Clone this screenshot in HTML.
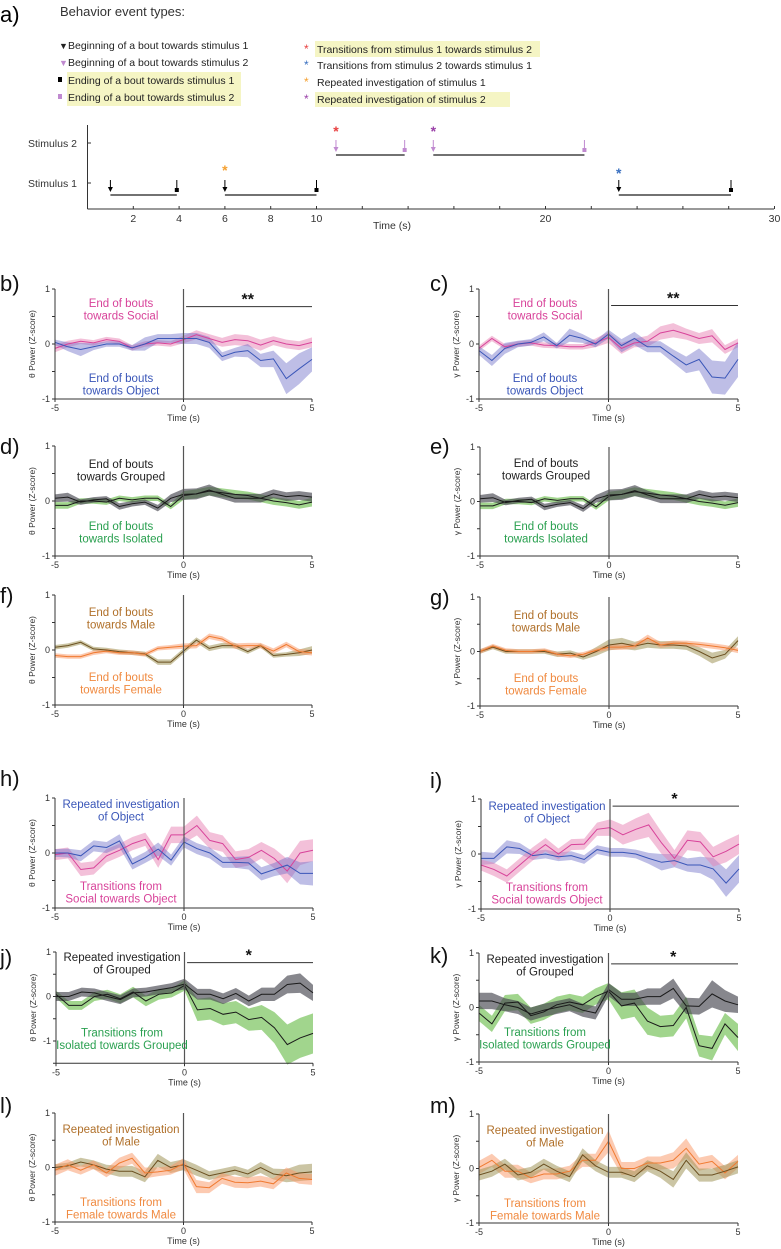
<!DOCTYPE html>
<html><head><meta charset="utf-8">
<style>
html,body{margin:0;padding:0;background:#fff;}
svg{display:block;font-family:"Liberation Sans",sans-serif;}
</style></head>
<body>
<svg id="fig" width="781" height="1249" viewBox="0 0 781 1249" xmlns="http://www.w3.org/2000/svg">
<g id="panelA">
<text x="0" y="22" font-size="22">a)</text>
<text x="60" y="16" font-size="13" fill="#333">Behavior event types:</text>
<rect x="67" y="72" width="174" height="18" fill="#f5f5c4"/>
<rect x="67" y="90" width="174" height="16" fill="#f5f5c4"/>
<rect x="315" y="41" width="225" height="16" fill="#f5f5c4"/>
<rect x="315" y="92" width="195" height="15" fill="#f5f5c4"/>
<g font-size="10.5" fill="#222">
<text x="59" y="49" font-size="9">▼</text>
<text x="68" y="49">Beginning of a bout towards stimulus 1</text>
<text x="59" y="66" font-size="9" fill="#c08ad0">▼</text>
<text x="68" y="66">Beginning of a bout towards stimulus 2</text>
<rect x="58" y="77" width="4" height="5" fill="#000"/>
<text x="68" y="84">Ending of a bout towards stimulus 1</text>
<rect x="58" y="94" width="4" height="5" fill="#c08ad0"/>
<text x="68" y="101">Ending of a bout towards stimulus 2</text>
<text x="304" y="53" fill="#e84040" font-size="12">*</text>
<text x="317" y="53">Transitions from stimulus 1 towards stimulus 2</text>
<text x="304" y="69" fill="#3a70c0" font-size="12">*</text>
<text x="317" y="69">Transitions from stimulus 2 towards stimulus 1</text>
<text x="304" y="86" fill="#f5a030" font-size="12">*</text>
<text x="317" y="86">Repeated investigation of stimulus 1</text>
<text x="304" y="103" fill="#9a40a8" font-size="12">*</text>
<text x="317" y="103">Repeated investigation of stimulus 2</text>
</g>
</g>
<g id="timeline"></g>
<g id="panels"></g>
</svg>
<script>
// ---------- timeline data ----------
const tlTicks = [2,4,6,8,10,20,30];
const stim1Bouts = [[1.0,3.9],[6.0,10.0],[23.2,28.1]];
const stim2Bouts = [[10.85,13.85],[15.1,21.7]];
const starTimes = [10.85,15.1,6.0,23.2];
const starStim = [2,2,1,1];
const starColors = ['#e84040','#9a40a8','#f5a030','#3a70c0'];

// ---------- panel series data (t = -5..5 step 0.5) ----------
const timePoints = [-5,-4.5,-4,-3.5,-3,-2.5,-2,-1.5,-1,-0.5,0,0.5,1,1.5,2,2.5,3,3.5,4,4.5,5];
const bSocial = [-0.08,0,0.05,0.02,0.08,0.05,-0.07,0,0.02,0,0.08,0.17,0.1,0.03,0.08,0.06,-0.02,0.06,0,-0.03,0.03];
const bSocialSem = [0.07,0.06,0.05,0.05,0.05,0.05,0.05,0.05,0.05,0.05,0.07,0.08,0.08,0.08,0.1,0.1,0.1,0.08,0.08,0.08,0.09];
const bObject = [0.03,-0.05,-0.1,-0.05,0,0,-0.07,0,0.1,0.1,0.1,0.1,0.03,-0.23,-0.15,-0.12,-0.3,-0.27,-0.63,-0.45,-0.28];
const bObjectSem = [0.05,0.08,0.12,0.06,0.05,0.05,0.05,0.12,0.08,0.08,0.1,0.1,0.1,0.08,0.08,0.12,0.12,0.15,0.28,0.28,0.22];
const cSocial = [-0.08,0.1,-0.05,0,0.02,-0.02,-0.03,-0.05,-0.05,0.02,0.12,-0.08,0.02,0.05,0.2,0.25,0.18,0.1,0.15,-0.1,0.02];
const cSocialSem = [0.05,0.05,0.05,0.05,0.05,0.05,0.05,0.05,0.05,0.08,0.1,0.1,0.08,0.1,0.12,0.13,0.1,0.1,0.12,0.08,0.08];
const cObject = [-0.12,-0.3,-0.08,0,0.03,0.13,-0.03,0.16,0.1,0,0.18,-0.03,0.1,-0.05,-0.05,-0.22,-0.38,-0.28,-0.6,-0.62,-0.28];
const cObjectSem = [0.08,0.1,0.1,0.06,0.06,0.08,0.05,0.12,0.08,0.06,0.08,0.12,0.12,0.1,0.1,0.12,0.15,0.2,0.3,0.3,0.32];
const dGrouped = [0.05,0.07,-0.02,0.02,0.04,-0.1,-0.05,-0.02,-0.13,0.05,0.12,0.13,0.2,0.12,0.05,0.05,0.05,0.13,0.08,0.1,0.07];
const dGroupedSem = [0.07,0.08,0.05,0.05,0.05,0.06,0.05,0.05,0.06,0.07,0.1,0.1,0.1,0.08,0.08,0.08,0.08,0.08,0.08,0.08,0.08];
const dIsolated = [-0.08,-0.08,0,0,-0.02,0.05,0.02,0.05,0.05,-0.1,0.1,0.13,0.18,0.15,0.12,0.1,0.05,0,-0.03,-0.07,-0.02];
const dIsolatedSem = [0.06,0.06,0.05,0.05,0.05,0.05,0.05,0.05,0.05,0.05,0.08,0.08,0.08,0.08,0.08,0.07,0.07,0.07,0.07,0.07,0.08];
const eGrouped = [0.05,0.07,-0.02,0.02,0.04,-0.1,-0.05,-0.02,-0.13,0.05,0.12,0.13,0.2,0.12,0.05,0.05,0.05,0.13,0.08,0.1,0.07];
const eGroupedSem = [0.07,0.08,0.05,0.05,0.05,0.06,0.05,0.05,0.06,0.07,0.1,0.1,0.1,0.08,0.08,0.08,0.08,0.08,0.08,0.08,0.08];
const eIsolated = [-0.08,-0.08,0,0,-0.02,0.05,0.02,0.05,0.05,-0.1,0.1,0.13,0.18,0.15,0.12,0.1,0.05,0,-0.03,-0.07,-0.02];
const eIsolatedSem = [0.06,0.06,0.05,0.05,0.05,0.05,0.05,0.05,0.05,0.05,0.08,0.08,0.08,0.08,0.08,0.07,0.07,0.07,0.07,0.07,0.08];
const fMale = [0.05,0.08,0.14,0.02,0,-0.03,-0.05,-0.07,-0.22,-0.22,-0.02,0.18,0.03,0.08,0.08,-0.03,0.08,-0.1,-0.08,-0.05,0];
const fMaleSem = [0.04,0.04,0.04,0.04,0.04,0.04,0.04,0.04,0.05,0.05,0.05,0.05,0.05,0.05,0.05,0.04,0.04,0.04,0.04,0.06,0.07];
const fFemale = [-0.1,-0.12,-0.12,-0.05,-0.02,-0.05,-0.05,-0.08,0.03,0.05,0.07,0.08,0.25,0.2,0.07,0.08,0.08,-0.02,0.1,-0.03,-0.05];
const fFemaleSem = [0.04,0.04,0.04,0.04,0.04,0.04,0.04,0.04,0.04,0.04,0.05,0.05,0.05,0.05,0.05,0.05,0.05,0.05,0.05,0.05,0.05];
const gMale = [0,0.08,0,0,0,0,-0.05,-0.03,-0.1,0,0.12,0.15,0.1,0.15,0.12,0.12,0.1,0,-0.12,-0.05,0.2];
const gMaleSem = [0.04,0.04,0.04,0.04,0.04,0.04,0.05,0.05,0.05,0.08,0.1,0.1,0.08,0.08,0.07,0.07,0.07,0.08,0.1,0.08,0.08];
const gFemale = [0,0.1,0.02,0,0,0.02,-0.05,-0.08,-0.05,0.02,0.08,0.08,0.1,0.25,0.12,0.15,0.15,0.13,0.1,0.07,0.02];
const gFemaleSem = [0.04,0.04,0.04,0.04,0.04,0.04,0.04,0.04,0.04,0.04,0.05,0.05,0.05,0.06,0.05,0.05,0.05,0.05,0.05,0.05,0.05];
const hObject = [0,0,-0.05,0.13,0.1,0.22,-0.2,-0.08,0.07,-0.13,0.2,0.08,0,-0.17,-0.17,-0.18,-0.38,-0.3,-0.22,-0.37,-0.37];
const hObjectSem = [0.07,0.08,0.1,0.1,0.1,0.12,0.1,0.1,0.12,0.1,0.1,0.1,0.1,0.1,0.1,0.12,0.12,0.12,0.15,0.2,0.22];
const hSocial = [-0.03,0,-0.3,-0.27,-0.05,0.05,0.17,0.25,-0.12,0.33,0.33,0.5,0.23,0.17,-0.12,-0.08,0.05,-0.1,-0.33,0,0.05];
const hSocialSem = [0.1,0.1,0.12,0.12,0.12,0.12,0.12,0.12,0.15,0.15,0.15,0.18,0.15,0.15,0.15,0.15,0.15,0.18,0.22,0.22,0.2];
const iObject = [-0.08,-0.08,0.13,0.1,-0.03,0,-0.05,-0.03,-0.1,0.08,0.03,0.03,0,-0.08,-0.15,-0.12,-0.2,-0.2,-0.27,-0.53,-0.27];
const iObjectSem = [0.12,0.1,0.12,0.1,0.08,0.08,0.08,0.08,0.08,0.08,0.08,0.08,0.08,0.1,0.15,0.12,0.12,0.15,0.2,0.25,0.25];
const iSocial = [-0.2,-0.28,-0.4,-0.2,0,0.17,0,0.17,0.18,0.45,0.48,0.35,0.45,0.53,0.2,-0.08,0.25,0.22,-0.05,0.05,0.18];
const iSocialSem = [0.1,0.12,0.12,0.12,0.12,0.12,0.1,0.1,0.1,0.12,0.15,0.18,0.2,0.22,0.2,0.15,0.18,0.18,0.18,0.2,0.18];
const jGrouped = [0,0,0.1,0.08,0,-0.07,0.08,0.1,0.15,0.2,0.28,0.05,0.05,-0.05,0.07,-0.1,0.05,0.05,0.27,0.3,0.08];
const jGroupedSem = [0.1,0.1,0.1,0.1,0.1,0.1,0.1,0.1,0.1,0.1,0.12,0.12,0.12,0.12,0.12,0.12,0.15,0.15,0.2,0.22,0.18];
const jIsolated = [0.05,-0.2,-0.2,0,0.05,-0.05,0.1,-0.1,0.05,0.08,0.25,-0.3,-0.27,-0.4,-0.35,-0.52,-0.47,-0.7,-1.08,-0.93,-0.83];
const jIsolatedSem = [0.08,0.1,0.1,0.1,0.1,0.1,0.12,0.12,0.12,0.1,0.12,0.25,0.25,0.25,0.25,0.25,0.28,0.35,0.45,0.45,0.45];
const kGrouped = [0.12,0.12,0.05,0,-0.12,-0.05,0,0.05,-0.05,-0.1,0.33,0.15,0.15,0.2,0.2,0.35,0.03,0.02,0.25,0.12,0.05];
const kGroupedSem = [0.15,0.15,0.12,0.12,0.12,0.12,0.12,0.12,0.12,0.12,0.12,0.12,0.12,0.15,0.15,0.18,0.15,0.15,0.25,0.2,0.15];
const kIsolated = [-0.1,-0.3,0.08,0.1,-0.15,-0.08,0.05,0.1,0.05,0.2,0.3,0.03,0.08,-0.25,-0.35,-0.33,0,-0.7,-0.75,-0.3,-0.55];
const kIsolatedSem = [0.15,0.15,0.15,0.15,0.15,0.15,0.15,0.15,0.15,0.15,0.15,0.25,0.25,0.25,0.2,0.2,0.2,0.2,0.22,0.2,0.25];
const lMale = [0,0.03,0.1,0.05,-0.03,-0.07,-0.07,-0.17,0.13,0,0.05,-0.05,-0.15,-0.1,-0.05,-0.12,0,-0.12,-0.15,-0.1,-0.08];
const lMaleSem = [0.06,0.06,0.08,0.08,0.08,0.1,0.1,0.1,0.12,0.1,0.1,0.1,0.08,0.08,0.08,0.08,0.1,0.1,0.12,0.15,0.15];
const lFemale = [-0.05,0.05,-0.05,0.05,-0.1,0.08,0.17,-0.1,-0.08,-0.05,0.07,-0.35,-0.37,-0.2,-0.27,-0.28,-0.25,-0.3,-0.1,-0.2,-0.22];
const lFemaleSem = [0.1,0.1,0.08,0.08,0.08,0.1,0.1,0.1,0.08,0.08,0.1,0.12,0.1,0.1,0.1,0.1,0.1,0.1,0.1,0.1,0.1];
const mMale = [-0.12,-0.05,0.08,-0.12,-0.07,0.08,-0.05,-0.15,0.25,0.05,-0.07,-0.07,-0.15,0.05,-0.05,-0.2,0.15,-0.12,-0.12,-0.05,0.03];
const mMaleSem = [0.1,0.1,0.1,0.1,0.1,0.1,0.1,0.1,0.12,0.1,0.1,0.1,0.1,0.1,0.12,0.15,0.15,0.12,0.12,0.12,0.12];
const mFemale = [0.02,0.15,-0.05,-0.05,-0.17,-0.1,-0.1,-0.05,0.15,0.15,0.5,0,0,0.1,0.1,0.15,0.37,0.08,0.13,-0.08,0.13];
const mFemaleSem = [0.12,0.12,0.12,0.12,0.1,0.1,0.1,0.1,0.12,0.12,0.2,0.12,0.12,0.12,0.12,0.15,0.18,0.12,0.12,0.12,0.12];
const yTickLabels = ['1','0','-1'];
const xTickLabels = ['-5','0','5'];

const NS='http://www.w3.org/2000/svg';
function mk(tag, attrs, parent){const e=document.createElementNS(NS,tag);for(const k in attrs)e.setAttribute(k,attrs[k]);parent.appendChild(e);return e;}

// ---------- timeline ----------
const tl=document.getElementById('timeline');
const tx=t=>87.5+22.9*t;
const axY=209;
let el;
el=mk('line',{x1:87.5,y1:axY,x2:774,y2:axY,stroke:'#333','stroke-width':1},tl);


el=mk('line',{x1:87.5,y1:125,x2:87.5,y2:axY,stroke:'#333','stroke-width':1},tl);


for(let t=2;t<=30;t+=2){mk('line',{x1:tx(t),y1:axY,x2:tx(t),y2:axY-3,stroke:'#333'},tl);}
tlTicks.forEach(t=>{el=mk('text',{x:tx(t),y:axY+13,'font-size':10.5,'text-anchor':'middle',fill:'#333'},tl);el.textContent=t;

});
el=mk('text',{x:392,y:229,'font-size':10.5,'text-anchor':'middle',fill:'#333'},tl);el.textContent='Time (s)';


[['Stimulus 2',143],['Stimulus 1',183]].forEach(([s,y])=>{el=mk('text',{x:77,y:y+4,'font-size':10.5,'text-anchor':'end',fill:'#333'},tl);el.textContent=s;


mk('line',{x1:87.5,y1:y,x2:91,y2:y,stroke:'#333'},tl);});
function drawBouts(arr,barY,arrowTop,col){arr.forEach(([a,b])=>{
 el=mk('line',{x1:tx(a),y1:barY,x2:tx(b),y2:barY,stroke:'#444','stroke-width':1.6},tl);
 
 
 mk('line',{x1:tx(a),y1:arrowTop,x2:tx(a),y2:arrowTop+10,stroke:col,'stroke-width':1},tl);
 mk('path',{d:`M${tx(a)-2.5},${arrowTop+7} L${tx(a)+2.5},${arrowTop+7} L${tx(a)},${arrowTop+12} Z`,fill:col},tl);
 mk('line',{x1:tx(b),y1:arrowTop,x2:tx(b),y2:arrowTop+9,stroke:col,'stroke-width':1},tl);
 mk('rect',{x:tx(b)-2,y:arrowTop+8,width:4,height:4,fill:col},tl);});}
drawBouts(stim1Bouts,195,180,'#000');
drawBouts(stim2Bouts,155,140,'#c08ad0');
starTimes.forEach((t,i)=>{const y=starStim[i]===2?136:(i===3?178:175);
 el=mk('text',{x:tx(t),y:y,'font-size':14,'font-weight':'bold','text-anchor':'middle',fill:starColors[i]},tl);el.textContent='*';
 
 });

// ---------- panels ----------
const C={pinkL:'#d8439a',pinkB:'rgba(232,130,180,0.5)',blueL:'#3a56b8',blueB:'rgba(110,110,200,0.45)',
 blkL:'#1a1a1a',grayB:'rgba(70,70,80,0.65)',grnB:'rgba(110,190,80,0.65)',brnL:'#6b5020',oliveB:'rgba(160,150,90,0.55)',
 orgL:'#f07a30',orgB:'rgba(250,150,100,0.5)'};
const panels=[
 {id:'b',x0:55,x1:312,yt:289,yb:399,vmin:-1,lx:0,ly:283,ylab:'θ',sig:[0.1,0.68,'**'],
  s:[[bSocial,bSocialSem,C.pinkL,C.pinkB],[bObject,bObjectSem,C.blueL,C.blueB]],
  top:['End of bouts','towards Social','#d8439a',14],bot:['End of  bouts','towards Object','#3a56b8',-21]},
 {id:'c',x0:479,x1:738,yt:289,yb:399,vmin:-1,lx:430,ly:283,ylab:'γ',sig:[0.1,0.7,'**'],
  s:[[cSocial,cSocialSem,C.pinkL,C.pinkB],[cObject,cObjectSem,C.blueL,C.blueB]],
  top:['End of bouts','towards Social','#d8439a',14],bot:['End of  bouts','towards Object','#3a56b8',-21]},
 {id:'d',x0:55,x1:312,yt:446,yb:556,vmin:-1,lx:0,ly:446,ylab:'θ',
  s:[[dIsolated,dIsolatedSem,C.blkL,C.grnB],[dGrouped,dGroupedSem,C.blkL,C.grayB]],
  top:['End of bouts','towards Grouped','#222',18],bot:['End of bouts','towards Isolated','#2aa050',-30]},
 {id:'e',x0:480,x1:738,yt:447,yb:556,vmin:-1,lx:430,ly:446,ylab:'γ',
  s:[[eIsolated,eIsolatedSem,C.blkL,C.grnB],[eGrouped,eGroupedSem,C.blkL,C.grayB]],
  top:['End of bouts','towards Grouped','#222',16],bot:['End of bouts','towards Isolated','#2aa050',-30]},
 {id:'f',x0:55,x1:312,yt:595,yb:705,vmin:-1,lx:0,ly:595,ylab:'θ',
  s:[[fMale,fMaleSem,C.brnL,C.oliveB],[fFemale,fFemaleSem,C.orgL,C.orgB]],
  top:['End of bouts','towards Male','#b0702a',17],bot:['End of bouts','towards Female','#f08a40',-28]},
 {id:'g',x0:480,x1:738,yt:597,yb:706,vmin:-1,lx:430,ly:597,ylab:'γ',
  s:[[gMale,gMaleSem,C.brnL,C.oliveB],[gFemale,gFemaleSem,C.orgL,C.orgB]],
  top:['End of bouts','towards Male','#b0702a',18],bot:['End of bouts','towards Female','#f08a40',-28]},
 {id:'h',x0:55,x1:313,yt:798,yb:908,vmin:-1,lx:0,ly:778,ylab:'θ',
  s:[[hSocial,hSocialSem,C.pinkL,C.pinkB],[hObject,hObjectSem,C.blueL,C.blueB]],
  top:['Repeated investigation','of Object','#3a56b8',6],bot:['Transitions from','Social towards Object','#d8439a',-22]},
 {id:'i',x0:481,x1:739,yt:799,yb:909,vmin:-1,lx:430,ly:780,ylab:'γ',sig:[0.1,0.87,'*'],
  s:[[iObject,iObjectSem,C.blueL,C.blueB],[iSocial,iSocialSem,C.pinkL,C.pinkB]],
  top:['Repeated investigation','of Object','#3a56b8',7],bot:['Transitions from','Social towards Object','#d8439a',-22]},
 {id:'j',x0:56,x1:313,yt:952,yb:1041,vmin:-1.5,lx:0,ly:957,ylab:'θ',sig:[0.1,0.76,'*'],
  s:[[jIsolated,jIsolatedSem,C.blkL,C.grnB],[jGrouped,jGroupedSem,C.blkL,C.grayB]],
  top:['Repeated investigation','of Grouped','#222',5],bot:['Transitions from','Isolated towards Grouped','#2aa050',-31]},
 {id:'k',x0:479,x1:738,yt:953,yb:1062,vmin:-1,lx:430,ly:955,ylab:'γ',sig:[0.1,0.8,'*'],
  s:[[kIsolated,kIsolatedSem,C.blkL,C.grnB],[kGrouped,kGroupedSem,C.blkL,C.grayB]],
  top:['Repeated investigation','of Grouped','#222',6],bot:['Transitions from','Isolated towards Grouped','#2aa050',-30]},
 {id:'l',x0:55,x1:312,yt:1113,yb:1222,vmin:-1,lx:0,ly:1105,ylab:'θ',
  s:[[lMale,lMaleSem,C.brnL,C.oliveB],[lFemale,lFemaleSem,C.orgL,C.orgB]],
  top:['Repeated investigation','of Male','#b0702a',16],bot:['Transitions from','Female towards Male','#f08a40',-20]},
 {id:'m',x0:479,x1:738,yt:1114,yb:1223,vmin:-1,lx:430,ly:1105,ylab:'γ',
  s:[[mFemale,mFemaleSem,C.orgL,C.orgB],[mMale,mMaleSem,C.brnL,C.oliveB]],
  top:['Repeated investigation','of Male','#b0702a',16],bot:['Transitions from','Female towards Male','#f08a40',-20]},
];
const root=document.getElementById('panels');
panels.forEach(p=>{
 const g=mk('g',{},root);
 
 
 const X=t=>p.x0+(t+5)/10*(p.x1-p.x0);
 const Y=v=>p.yt+(1-v)*(p.yb-p.yt)/2;
 const yBottom=Y(p.vmin);
 let e=mk('text',{x:p.lx,y:p.ly+8,'font-size':22,fill:'#111'},g);e.textContent=p.id+')';
 
 
 p.s.forEach((s,si)=>{const [m,se,lc,bc]=s;
  let up=timePoints.map((t,i)=>X(t).toFixed(1)+','+Y(m[i]+se[i]).toFixed(1));
  let dn=timePoints.map((t,i)=>X(t).toFixed(1)+','+Y(m[i]-se[i]).toFixed(1)).reverse();
  const b=mk('polygon',{points:up.concat(dn).join(' '),fill:bc},g);
  
  });
 p.s.forEach((s,si)=>{const [m,se,lc]=s;
  const l=mk('polyline',{points:timePoints.map((t,i)=>X(t).toFixed(1)+','+Y(m[i]).toFixed(1)).join(' '),fill:'none',stroke:lc,'stroke-width':1},g);
  
  });
 e=mk('line',{x1:p.x0,y1:p.yt,x2:p.x0,y2:yBottom,stroke:'#333'},g);
 
 
 e=mk('line',{x1:p.x0,y1:yBottom,x2:p.x1,y2:yBottom,stroke:'#333'},g);
 
 
 e=mk('line',{x1:X(0),y1:p.yt,x2:X(0),y2:yBottom,stroke:'#555','stroke-width':1.2},g);
 
 
 for(let v=1;v>=p.vmin-0.01;v-=0.5) mk('line',{x1:p.x0-3,y1:Y(v),x2:p.x0,y2:Y(v),stroke:'#333'},g);
 [1,0,-1].forEach((v,i)=>{e=mk('text',{x:p.x0-5,y:Y(v)+3,'font-size':9,'text-anchor':'end',fill:'#333'},g);e.textContent=yTickLabels[i];
  
  });
 [-5,0,5].forEach((t,i)=>{mk('line',{x1:X(t),y1:yBottom,x2:X(t),y2:yBottom+3,stroke:'#333'},g);
  e=mk('text',{x:X(t),y:yBottom+12,'font-size':9,'text-anchor':'middle',fill:'#333'},g);e.textContent=xTickLabels[i];
  
  });
 e=mk('text',{x:X(0),y:yBottom+22,'font-size':9,'text-anchor':'middle',fill:'#333'},g);e.textContent='Time (s)';
 
 
 const cy=(p.yt+yBottom)/2;
 e=mk('text',{x:0,y:0,'font-size':8.5,'text-anchor':'middle',fill:'#333',transform:`translate(${p.x0-20},${cy}) rotate(-90)`},g);
 e.textContent=p.ylab+' Power (Z-score)';
 
 
 const cx=p.x0+66;
 [[p.top,p.yt],[p.bot,yBottom]].forEach(([a,base],k)=>{
  [a[0],a[1]].forEach((txt,j)=>{e=mk('text',{x:cx,y:base+a[3]+j*12.5+4,'font-size':11.5,'text-anchor':'middle',fill:a[2]},g);e.textContent=txt;
   
   });});
 if(p.sig){const [t0,v,st]=p.sig;
  e=mk('line',{x1:X(t0),y1:Y(v),x2:X(5),y2:Y(v),stroke:'#333'},g);
  
  
  e=mk('text',{x:X(2.5),y:Y(v)-2,'font-size':16,'font-weight':'bold','text-anchor':'middle',fill:'#111'},g);e.textContent=st;
  
  }
});
</script>
</body></html>
